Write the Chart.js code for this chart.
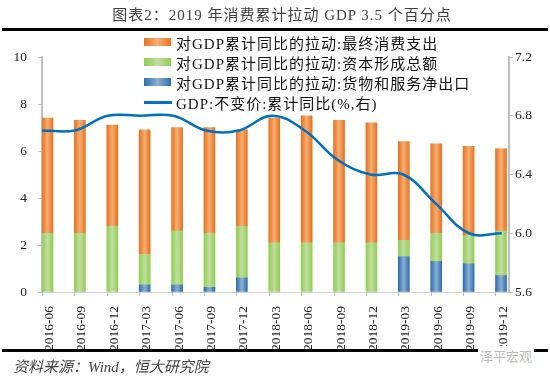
<!DOCTYPE html>
<html>
<head>
<meta charset="utf-8">
<script src="https://cdn.jsdelivr.net/npm/chart.js@4.4.1/dist/chart.umd.min.js"></script>
<style>
  body { margin: 0; background: #fff; }
  #wrap { position: relative; width: 550px; height: 376px; overflow: hidden; background: #fff; }
  #chart { position: absolute; left: 0; top: 0; }
  .rule { position: absolute; left: 2px; width: 546px; height: 3px; background: #000; }
  #title { position: absolute; left: 0; top: 5px; width: 550px; padding-left: 14px; box-sizing: border-box; text-align: center;
    font: 15px 'Liberation Serif', 'Noto Sans CJK SC', serif; color: #404040; line-height: 20px; letter-spacing: 1px; }
  #legend { position: absolute; left: 144px; top: 32px; }
  #legend .row { display: flex; align-items: center; height: 20px; }
  #legend .sw { width: 27px; height: 8px; margin-right: 5px; }
  #legend .ln { width: 28px; height: 3px; margin-right: 4px; }
  #legend span { font: 15px 'Liberation Serif', 'Noto Sans CJK SC', serif; color: #111; letter-spacing: 1px; white-space: nowrap; }
  #source { position: absolute; left: 13px; top: 355px; font: italic 15px 'Liberation Serif', 'Noto Sans CJK SC', serif; color: #444; }
  #mark { position: absolute; left: 478px; top: 346px; font: 13px 'Noto Sans CJK SC', sans-serif; color: #bbb; background: #fff; padding: 0 2px; }
</style>
</head>
<body>
<div id="wrap">
  <canvas id="chart" width="550" height="376"></canvas>
  <div id="title">图表2：2019 年消费累计拉动 GDP 3.5 个百分点</div>
  <div class="rule" style="top:28px"></div>
  <div id="legend"></div>
  <div class="rule" style="top:349px"></div>
  <div id="mark">泽平宏观</div>
  <div id="source">资料来源：Wind，恒大研究院</div>
</div>
<script>
const categories = ['2016-06', '2016-09', '2016-12', '2017-03', '2017-06', '2017-09', '2017-12',
  '2018-03', '2018-06', '2018-09', '2018-12', '2019-03', '2019-06', '2019-09', '2019-12'];
// 拉动 (percentage points)
const consumption = [4.9, 4.8, 4.3, 5.3, 4.4, 4.5, 4.1, 5.3, 5.4, 5.2, 5.1, 4.2, 3.8, 3.8, 3.5];
const capital = [2.5, 2.5, 2.8, 1.3, 2.3, 2.3, 2.2, 2.1, 2.1, 2.1, 2.1, 0.7, 1.2, 1.2, 1.9];
// negative values fall below the 0 axis and are hidden, as in the original
const netExports = [-0.7, -0.6, -0.3, 0.3, 0.3, 0.2, 0.6, -0.6, -0.8, -0.8, -0.8, 1.5, 1.3, 1.2, 0.7];
// GDP 不变价 累计同比 (%, right axis)
const gdpGrowth = [6.7, 6.7, 6.8, 6.8, 6.8, 6.7, 6.7, 6.8, 6.7, 6.5, 6.4, 6.4, 6.2, 6.0, 6.0];
const leftTicks = [0, 2, 4, 6, 8, 10];
const rightTicks = [5.6, 6.0, 6.4, 6.8, 7.2];

const BAR_W = 11;
const tickFont = { family: "'Liberation Serif', 'Times New Roman', serif", size: 13.5 };
const tickColor = '#222';
const axisGrey = '#bfbfbf';

const colors = {
  consumption: ['#E8721F', '#F4AE74'],
  capital: ['#8FD04E', '#C3DBA6'],
  netExports: ['#2B6EB6', '#8FAFCC'],
  line: '#0070C0'
};

// bars get a light stripe down the middle, like the Excel fill
const stripe = ([edge, mid]) => (ctx) => {
  const chart = ctx.chart;
  const x = chart.scales.x;
  if (ctx.type !== 'data' || !x) return edge;
  const cx = x.getPixelForValue(ctx.dataIndex);
  if (!isFinite(cx)) return edge;
  const g = chart.ctx.createLinearGradient(cx - BAR_W / 2, 0, cx + BAR_W / 2, 0);
  g.addColorStop(0, edge);
  g.addColorStop(0.5, mid);
  g.addColorStop(1, edge);
  return g;
};

const pts = (arr) => arr.map((v, i) => ({ x: i, y: v }));

const barSet = (label, values, pair) => ({
  type: 'bar',
  label,
  data: pts(values),
  stack: 'gdp',
  grouped: false,
  order: 1,
  clip: 0,
  barThickness: BAR_W,
  backgroundColor: stripe(pair),
  borderWidth: 0,
  xAxisID: 'x',
  yAxisID: 'y'
});

const xTickMarks = {
  id: 'xTickMarks',
  afterDatasetsDraw(chart) {
    const { ctx, chartArea, scales: { x } } = chart;
    ctx.save();
    ctx.strokeStyle = axisGrey;
    ctx.lineWidth = 1;
    categories.forEach((_, i) => {
      const px = Math.round(x.getPixelForValue(i) - BAR_W / 2) + 0.5;
      ctx.beginPath();
      ctx.moveTo(px, chartArea.bottom);
      ctx.lineTo(px, chartArea.bottom + 4);
      ctx.stroke();
    });
    ctx.restore();
  }
};

document.addEventListener('DOMContentLoaded', () => {
  const legendRows = [
    { label: '对GDP累计同比的拉动:最终消费支出', pair: colors.consumption },
    { label: '对GDP累计同比的拉动:资本形成总额', pair: colors.capital },
    { label: '对GDP累计同比的拉动:货物和服务净出口', pair: colors.netExports },
    { label: 'GDP:不变价:累计同比(%,右)', line: colors.line }
  ];

  document.getElementById('legend').innerHTML = legendRows.map((r) => r.line
    ? `<div class="row"><div class="ln" style="background:${r.line}"></div><span>${r.label}</span></div>`
    : `<div class="row"><div class="sw" style="background:linear-gradient(90deg, ${r.pair[0]}, ${r.pair[1]}, ${r.pair[0]})"></div><span>${r.label}</span></div>`
  ).join('');

  new Chart(document.getElementById('chart'), {
    data: {
      datasets: [
        {
          type: 'line',
          label: legendRows[3].label,
          data: pts(gdpGrowth),
          order: 0,
          borderColor: colors.line,
          borderWidth: 2.5,
          tension: 0.4,
          pointRadius: 0,
          fill: false,
          xAxisID: 'x2',
          yAxisID: 'y1'
        },
        barSet(legendRows[2].label, netExports, colors.netExports),
        barSet(legendRows[1].label, capital, colors.capital),
        barSet(legendRows[0].label, consumption, colors.consumption)
      ]
    },
    options: {
      responsive: false,
      animation: false,
      layout: { padding: { top: 57, left: 0, right: 0, bottom: 0 } },
      plugins: {
        legend: { display: false },
        tooltip: { enabled: false }
      },
      scales: {
        x: {
          type: 'linear',
          bounds: 'data',
          offset: false,
          min: -0.17,
          max: 14.247,
          afterBuildTicks: (s) => { s.ticks = categories.map((_, i) => ({ value: i })); },
          afterFit: (s) => { s.height = 84; },
          grid: { display: false, offset: false },
          border: { color: '#d0d0d0', width: 1 },
          ticks: {
            autoSkip: false,
            minRotation: 90,
            maxRotation: 90,
            padding: 6,
            labelOffset: 2,
            font: tickFont,
            color: tickColor,
            callback: (v) => categories[v]
          }
        },
        // the line sits on its own, slightly narrower category spacing
        x2: {
          type: 'linear',
          bounds: 'data',
          offset: false,
          display: false,
          min: 0,
          max: 14.22
        },
        y: {
          stacked: true,
          min: 0,
          max: 10,
          afterBuildTicks: (s) => { s.ticks = leftTicks.map((v) => ({ value: v })); },
          afterFit: (s) => { s.width = 42; },
          grid: { drawOnChartArea: false, tickLength: 4, color: axisGrey },
          border: { color: axisGrey, width: 2 },
          ticks: { padding: 11, font: tickFont, color: tickColor }
        },
        y1: {
          position: 'right',
          min: 5.6,
          max: 7.2,
          afterBuildTicks: (s) => { s.ticks = rightTicks.map((v) => ({ value: v })); },
          afterFit: (s) => { s.width = 41; },
          grid: { drawOnChartArea: false, tickLength: 4, color: axisGrey },
          border: { color: axisGrey, width: 2 },
          ticks: { padding: 2, font: tickFont, color: tickColor, callback: (v) => v.toFixed(1) }
        }
      }
    },
    plugins: [xTickMarks]
  });
});
</script>
</body>
</html>
